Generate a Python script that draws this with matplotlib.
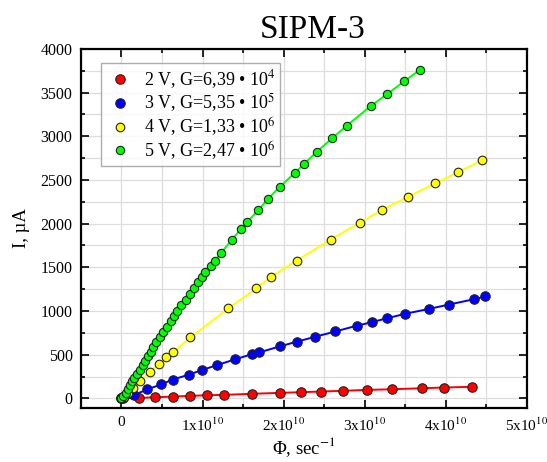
import matplotlib

matplotlib.use("Agg")
import matplotlib.pyplot as plt
import numpy as np
from matplotlib.ticker import FuncFormatter, MultipleLocator

plt.rcParams["font.family"] = ["Liberation Serif", "DejaVu Serif"]
plt.rcParams["mathtext.fontset"] = "stix"

# ── data (phi in units of 1e10 sec^-1, current in uA) ─────────────────────────

phi_2v = [0.0, 0.22, 0.41, 0.63, 0.84, 1.05, 1.27, 1.61, 1.96, 2.21, 2.46, 2.73,
          3.03, 3.34, 3.71, 3.98, 4.32]
cur_2v = [0, 5, 12, 20, 28, 35, 40, 52, 63, 70, 78, 86, 97, 104, 116, 124, 132]

phi_3v = [0.0, 0.02, 0.16, 0.32, 0.49, 0.63, 0.83, 0.99, 1.18, 1.40, 1.61, 1.70,
          1.95, 2.16, 2.39, 2.64, 2.90, 3.09, 3.28, 3.50, 3.80, 4.04, 4.35, 4.49]
cur_3v = [0, 8, 40, 103, 160, 214, 271, 323, 381, 446, 506, 526, 594, 648, 705,
          766, 831, 872, 918, 968, 1025, 1074, 1135, 1166]

phi_4v = [0.0, 0.03, 0.08, 0.14, 0.23, 0.35, 0.46, 0.55, 0.63, 0.85, 1.32, 1.66,
          1.85, 2.16, 2.58, 2.94, 3.22, 3.53, 3.87, 4.15, 4.45]
cur_4v = [0, 20, 65, 120, 196, 305, 389, 469, 526, 697, 1030, 1258, 1394, 1577,
          1817, 2011, 2160, 2305, 2461, 2587, 2729]

phi_5v = [0.0, 0.02, 0.05, 0.075, 0.10, 0.13, 0.16, 0.19, 0.23, 0.26, 0.29, 0.33,
          0.36, 0.39, 0.43, 0.47, 0.51, 0.56, 0.61, 0.65, 0.69, 0.74, 0.79, 0.84,
          0.90, 0.95, 0.99, 1.03, 1.10, 1.15, 1.23, 1.36, 1.47, 1.55, 1.69, 1.81,
          1.95, 2.14, 2.25, 2.41, 2.60, 2.78, 3.08, 3.28, 3.49, 3.68]
cur_5v = [0, 26, 65, 105, 149, 193, 237, 282, 328, 377, 426, 480, 534, 586, 640,
          700, 758, 819, 883, 943, 1002, 1063, 1128, 1196, 1269, 1330, 1391, 1448,
          1510, 1572, 1667, 1814, 1935, 2019, 2157, 2286, 2419, 2583, 2682, 2823,
          2979, 3123, 3349, 3486, 3631, 3760]

labels = [
  "2 V, G=6,39 • 10$^4$",
  "3 V, G=5,35 • 10$^5$",
  "4 V, G=1,33 • 10$^6$",
  "5 V, G=2,47 • 10$^6$",
]
colors = ["#ff0000", "#0000ff", "#ffff00", "#00ff00"]


def _phi_fmt(v, _pos):
  k = v / 1e10
  if abs(k) < 1e-9:
    return "0"
  return f"{k:g}x10$^{{10}}$"


fig = plt.figure(figsize=(5.47, 4.62), dpi=100)
ax = fig.add_axes([0.148, 0.117, 0.815, 0.777])

series = [(phi_2v, cur_2v), (phi_3v, cur_3v), (phi_4v, cur_4v), (phi_5v, cur_5v)]
sizes = [6.8, 6.8, 6.2, 6.0]
for (phi, cur), color, label, ms in zip(series, colors, labels, sizes):
  x = np.array(phi) * 1e10
  ax.plot(x, cur, "-", color=color, linewidth=1.4, zorder=2)
  ax.plot(x, cur, "o", color=color, markeredgecolor="#222222",
          markeredgewidth=0.8, markersize=ms, label=label, zorder=3)

ax.set_xlim(-0.5e10, 5e10)
ax.set_ylim(-110, 4000)

ax.xaxis.set_major_locator(MultipleLocator(1e10))
ax.xaxis.set_minor_locator(MultipleLocator(0.5e10))
ax.xaxis.set_major_formatter(FuncFormatter(_phi_fmt))
ax.yaxis.set_major_locator(MultipleLocator(500))
ax.yaxis.set_minor_locator(MultipleLocator(250))

ax.grid(True, which="both", color="#dddddd", linewidth=0.9, zorder=0)
ax.set_axisbelow(True)
ax.tick_params(which="both", direction="in", top=True, right=True,
               width=1.2, pad=6)
ax.tick_params(axis="y", labelsize=11.5)
ax.tick_params(axis="x", labelsize=11)
ax.tick_params(which="major", length=6)
ax.tick_params(which="minor", length=3)
for sp in ax.spines.values():
  sp.set_linewidth(1.6)

ax.set_xlabel("Φ, sec$^{-1}$", fontsize=13.5, labelpad=1)
ax.set_ylabel("I, µA", fontsize=13.5, labelpad=8)
ax.set_title("SIPM-3", fontsize=24, x=0.52, pad=8)

leg = ax.legend(loc="upper left", bbox_to_anchor=(0.025, 0.985), fontsize=13,
                frameon=True, fancybox=False, edgecolor="#999999",
                handletextpad=0.5, labelspacing=0.05, borderpad=0.25,
                handlelength=1.6)
leg.get_frame().set_linewidth(1.0)

fig.savefig("out.png", dpi=100)
